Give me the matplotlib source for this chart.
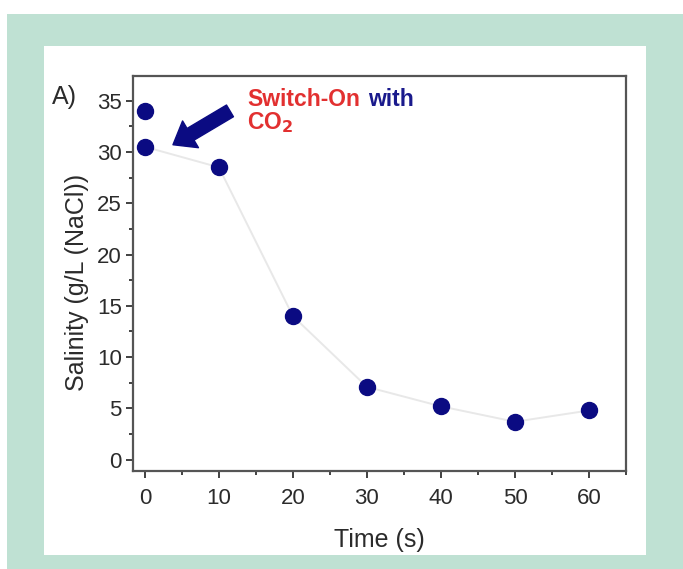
import matplotlib.pyplot as plt
from matplotlib.patches import Rectangle
from matplotlib.ticker import MultipleLocator

# data
time_s = [0, 0, 10, 20, 30, 40, 50, 60]
salinity = [34.0, 30.5, 28.5, 14.0, 7.1, 5.2, 3.7, 4.8]
x_ticks = [0, 10, 20, 30, 40, 50, 60]
y_ticks = [0, 5, 10, 15, 20, 25, 30, 35]

plt.rcParams['font.family'] = ['Liberation Sans', 'DejaVu Sans']

W, H = 683, 569
fig = plt.figure(figsize=(W / 100, H / 100), dpi=100)
fig.patch.set_facecolor('white')

# green frame and white card
fig.add_artist(Rectangle((7 / W, 0), 1 - 7 / W, (H - 14) / H,
                         transform=fig.transFigure, facecolor='#bfe1d3',
                         edgecolor='none', zorder=0))
fig.add_artist(Rectangle((44 / W, (H - 555) / H), (646 - 44) / W, (555 - 46) / H,
                         transform=fig.transFigure, facecolor='white',
                         edgecolor='none', zorder=0))

ax = fig.add_axes([133 / W, (H - 471) / H, (626 - 133) / W, (471 - 76) / H])
ax.set_facecolor('white')
ax.set_zorder(1)

ax.plot(time_s[1:], salinity[1:], color='#e8e8e8', lw=1.4, zorder=2)
ax.plot(time_s, salinity, 'o', color='#0b0b82', markersize=11.5, zorder=3)

ax.set_xlim(-1.6, 65)
ax.set_ylim(-1.1, 37.4)
ax.set_xticks(x_ticks)
ax.set_yticks(y_ticks)
ax.xaxis.set_minor_locator(MultipleLocator(5))
ax.yaxis.set_minor_locator(MultipleLocator(2.5))
ax.tick_params(which='both', direction='out', colors='#333333', labelcolor='#2b2b2b',
               labelsize=16, width=1.3)
ax.tick_params(which='major', length=5, pad=3)
ax.tick_params(axis='x', which='major', pad=7)
ax.tick_params(which='minor', length=3)
for s in ax.spines.values():
    s.set_color('#555555')
    s.set_linewidth(1.6)

ax.set_xlabel('Time (s)', fontsize=18, color='#2b2b2b', labelpad=14)
ax.set_ylabel('Salinity (g/L (NaCl))', fontsize=18, color='#2b2b2b', labelpad=6)
ax.yaxis.label.set_y(0.478)

# arrow pointing at the switch-on point
ax.annotate('', xy=(3.8, 30.7), xytext=(11.5, 34.0),
            arrowprops=dict(arrowstyle='simple,tail_width=0.7,head_width=1.6,head_length=1.05',
                            mutation_scale=14, color='#0b0b82',
                            shrinkA=0, shrinkB=0), zorder=4)

ax.text(13.8, 34.5, 'Switch-On', color='#e23030', fontsize=16.5, fontweight='bold',
        va='baseline', ha='left')
ax.text(30.2, 34.5, 'with', color='#1a1a8c', fontsize=16.5, fontweight='bold',
        va='baseline', ha='left')
ax.text(13.8, 32.2, r'CO$_\mathbf{2}$', color='#e23030', fontsize=16.5, fontweight='bold',
        va='baseline', ha='left')

fig.text(52 / W, 1 - 97 / H, 'A)', fontsize=18, color='#2b2b2b', va='center', ha='left')

fig.savefig('out.png', dpi=100)
